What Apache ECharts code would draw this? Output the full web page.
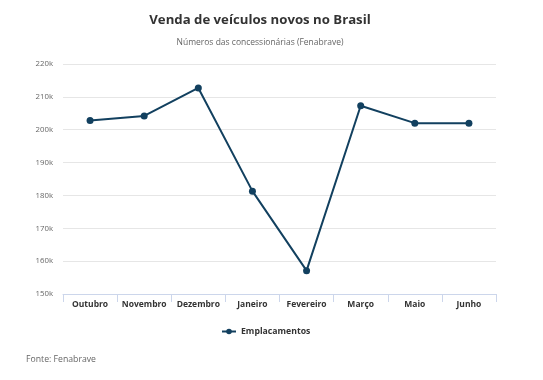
<!DOCTYPE html>
<html><head><meta charset="utf-8">
<script src="https://cdn.jsdelivr.net/npm/echarts@6/dist/echarts.min.js"></script>
<style>html,body{margin:0;padding:0;background:#fff}#c{width:543px;height:380px}</style>
</head><body><div id="c"></div>
<script>
const categories = ['Outubro','Novembro','Dezembro','Janeiro','Fevereiro','Março','Maio','Junho'];
const emplacamentos = [202800, 204200, 212700, 181300, 157100, 207300, 202000, 202000];
const seriesName = 'Emplacamentos';
const titleText = 'Venda de veículos novos no Brasil';
const subtitleText = 'Números das concessionárias (Fenabrave)';
const footerText = 'Fonte: Fenabrave';

const chart = echarts.init(document.getElementById('c'), null, {renderer:'canvas'});
const FONT = '"Open Sans", sans-serif';
chart.setOption({
  animation: false,
  textStyle: {fontFamily: FONT},
  title: [
    {text: titleText, left: 255, top: 6, textAlign: 'center',
     textStyle: {fontFamily: FONT, fontSize: 13.2, fontWeight: 'bold', color: '#333', lineHeight: 18}},
    {text: subtitleText, left: 255, top: 32, textAlign: 'center',
     textStyle: {fontFamily: FONT, fontSize: 8.5, fontWeight: 'normal', color: '#666', lineHeight: 12}},
    {text: footerText, left: 21, top: 349,
     textStyle: {fontFamily: FONT, fontSize: 8.7, fontWeight: 'normal', color: '#666', lineHeight: 12}}
  ],
  legend: {
    data: [seriesName], left: 216, top: 322,
    itemWidth: 14, itemHeight: 7,
    textStyle: {fontFamily: FONT, fontSize: 8.7, fontWeight: 'bold', color: '#333'}
  },
  grid: {left: 63, right: 47, top: 64, bottom: 86, containLabel: false},
  xAxis: {
    type: 'category', data: categories, boundaryGap: true,
    axisLine: {lineStyle: {color: '#ccd6eb', width: 1}},
    axisTick: {show: true, length: 8, lineStyle: {color: '#ccd6eb'}},
    axisLabel: {fontFamily: FONT, fontSize: 8.5, fontWeight: 'bold', color: '#333', margin: 6, interval: 0}
  },
  yAxis: {
    type: 'value', min: 150000, max: 220000, interval: 10000,
    axisLine: {show: false}, axisTick: {show: false},
    splitLine: {lineStyle: {color: '#e6e6e6', width: 1}},
    axisLabel: {fontFamily: FONT, fontSize: 7.8, color: '#666', margin: 10,
      formatter: v => (v/1000) + 'k'}
  },
  series: [{
    name: seriesName, type: 'line', data: emplacamentos,
    symbol: 'circle', symbolSize: 7,
    lineStyle: {color: '#12405f', width: 2},
    itemStyle: {color: '#12405f'}
  }]
});
</script></body></html>
